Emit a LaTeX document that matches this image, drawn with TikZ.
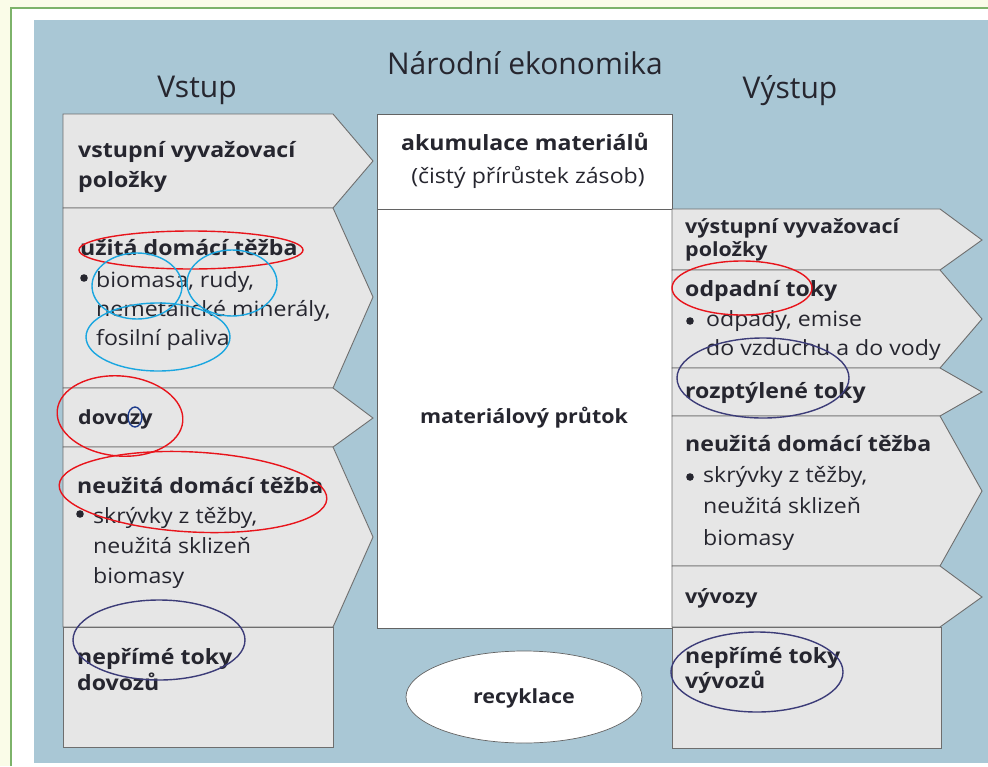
\documentclass[tikz,border=0pt]{standalone}
\usepackage{graphicx}
\usepackage{fontspec}
\setmainfont{Open Sans}
\newcommand\wtxt[1]{\scalebox{1.1}[1]{#1}}
\definecolor{cream}{HTML}{FAFCE8}
\definecolor{frame}{HTML}{7DB36A}
\definecolor{panel}{HTML}{A9C7D5}
\definecolor{boxfill}{HTML}{E6E6E6}
\definecolor{boxline}{HTML}{6E6E6E}
\definecolor{ink}{HTML}{26262F}
\definecolor{mred}{HTML}{E8141B}
\definecolor{mcyan}{HTML}{1AA6E0}
\definecolor{mnavy}{HTML}{3C3C78}
\definecolor{mblue}{HTML}{1E3C8C}
\begin{document}
\begin{tikzpicture}[x=1pt,y=-1pt,
  flowbox/.style={draw=boxline,fill=boxfill,line width=0.9pt,line join=miter},
  whitebox/.style={draw=boxline!90!black,fill=white,line width=0.9pt},
  lbl/.style={inner sep=0pt,anchor=base west,text=ink},
  head/.style={lbl,font=\fontsize{21}{25}\selectfont\bfseries},
  heads/.style={lbl,font=\fontsize{19.5}{23}\selectfont\bfseries},
  body/.style={lbl,font=\fontsize{21}{25}\selectfont},
  title/.style={inner sep=0pt,anchor=base,text=ink,font=\fontsize{30}{34}\selectfont},
  pen/.style={line width=1.4pt},
  dot/.style={fill=ink}
]
\useasboundingbox (0,0) rectangle (988,766);
% background
\fill[cream] (0,0) rectangle (988,766);
\fill[white] (11,8) rectangle (988,766);
\draw[frame,line width=1.2pt] (11,766) -- (11,8) -- (988,8);
\fill[panel] (34,20) rectangle (988,763);

% titles
\node[title] (tnat) at (525,74) {Národní ekonomika};
\node[title] (tin) at (197,97) {Vstup};
\node[title] (tout) at (790,98) {Výstup};

% left column
\draw[flowbox] (63,114) -- (333,114) -- (373,161) -- (333,208) -- (63,208) -- cycle;
\draw[flowbox] (63,208) -- (333,208) -- (373,297) -- (333,388) -- (63,388) -- cycle;
\draw[flowbox] (63,388) -- (333,388) -- (373,418) -- (333,447) -- (63,447) -- cycle;
\draw[flowbox] (63,447) -- (333,447) -- (373,537) -- (333,627) -- (63,627) -- cycle;
\draw[flowbox] (63,627) rectangle (333,747);

% centre
\draw[whitebox] (377,114) rectangle (672,628);
\draw[boxline!90!black,line width=0.9pt] (377,209) -- (672,209);
\draw[whitebox,line width=0.7pt] (524,697) ellipse [x radius=118,y radius=46];

% right column
\draw[flowbox] (672,209) -- (940,209) -- (982,240) -- (940,270) -- (672,270) -- cycle;
\draw[flowbox] (672,270) -- (940,270) -- (982,319) -- (940,368) -- (672,368) -- cycle;
\draw[flowbox] (672,368) -- (940,368) -- (982,392) -- (940,416) -- (672,416) -- cycle;
\draw[flowbox] (672,416) -- (940,416) -- (982,491) -- (940,566) -- (672,566) -- cycle;
\draw[flowbox] (672,566) -- (940,566) -- (982,597) -- (940,627) -- (672,627) -- cycle;
\draw[flowbox] (672,627) rectangle (941,748);

% left texts
\node[head] (a1) at (78,157) {\wtxt{vstupní vyvažovací}};
\node[head] (a2) at (78,187) {\wtxt{položky}};
\node[head] (b1) at (80,255) {\wtxt{užitá domácí těžba}};
\fill[dot] (84,278) circle (3.8);
\node[body] (b2) at (96,287) {\wtxt{biomasa, rudy,}};
\node[body] (b3) at (96,316) {\wtxt{nemetalické minerály,}};
\node[body] (b4) at (96,345) {\wtxt{fosilní paliva}};
\node[heads] (c1) at (78,424) {\wtxt{dovozy}};
\node[head] (d1) at (77,493) {\wtxt{neužitá domácí těžba}};
\fill[dot] (80,514) circle (3.8);
\node[body] (d2) at (93,523) {\wtxt{skrývky z těžby,}};
\node[body] (d3) at (93,553) {\wtxt{neužitá sklizeň}};
\node[body] (d4) at (93,583) {\wtxt{biomasy}};
\node[head] (e1) at (77,664) {\wtxt{nepřímé toky}};
\node[head] (e2) at (77,690) {\wtxt{dovozů}};

% centre texts
\node[head,anchor=base] (m1) at (525,150) {\wtxt{akumulace materiálů}};
\node[body,anchor=base] (m2) at (528,183) {\wtxt{(čistý přírůstek zásob)}};
\node[heads,anchor=base] (m3) at (524,423) {\wtxt{materiálový průtok}};
\node[heads,anchor=base] (rec) at (524,703) {\wtxt{recyklace}};

% right texts
\node[heads] (f1) at (685,233) {\wtxt{výstupní vyvažovací}};
\node[heads] (f2) at (685,256) {\wtxt{položky}};
\node[head] (g1) at (685,296) {\wtxt{odpadní toky}};
\fill[dot] (690,321) circle (3.8);
\node[body] (g2) at (706,326) {\wtxt{odpady, emise}};
\node[body] (g3) at (706,355) {\wtxt{do vzduchu a do vody}};
\node[head] (h1) at (685,398) {\wtxt{rozptýlené toky}};
\node[head] (i1) at (685,451) {\wtxt{neužitá domácí těžba}};
\fill[dot] (690,477) circle (3.8);
\node[body] (i2) at (703,482) {\wtxt{skrývky z těžby,}};
\node[body] (i3) at (703,513) {\wtxt{neužitá sklizeň}};
\node[body] (i4) at (703,545) {\wtxt{biomasy}};
\node[heads] (j1) at (685,603) {\wtxt{vývozy}};
\node[head] (k1) at (685,663) {\wtxt{nepřímé toky}};
\node[head] (k2) at (685,688) {\wtxt{vývozů}};

% hand-drawn marks
\draw[pen,mred] (191,250) ellipse [x radius=112,y radius=19];
\draw[pen,mred,rotate around={-5:(120,416)}] (120,416) ellipse [x radius=63,y radius=40];
\draw[pen,mred,rotate around={-3:(193,492)}] (193,492) ellipse [x radius=134,y radius=40];
\draw[pen,mred] (742,288) ellipse [x radius=70,y radius=27];
\draw[pen,mcyan] (137,286) ellipse [x radius=45,y radius=33];
\draw[pen,mcyan] (232,283) ellipse [x radius=45,y radius=33];
\draw[pen,mcyan] (158,337) ellipse [x radius=72,y radius=34];
\draw[pen,mblue] (135,417) ellipse [x radius=7,y radius=10];
\draw[pen,mnavy] (763,378) ellipse [x radius=86,y radius=40];
\draw[pen,mnavy] (159,640) ellipse [x radius=86,y radius=40];
\draw[pen,mnavy] (757,672) ellipse [x radius=86,y radius=40];
\end{tikzpicture}
\end{document}
